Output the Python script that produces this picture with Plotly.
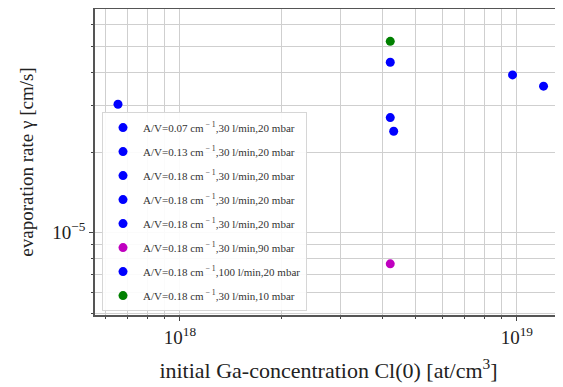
import plotly.graph_objects as go

# Data
labels = [
    "A/V=0.07 cm<sup> − 1</sup>,30 l/min,20 mbar",
    "A/V=0.13 cm<sup> − 1</sup>,30 l/min,20 mbar",
    "A/V=0.18 cm<sup> − 1</sup>,30 l/min,20 mbar",
    "A/V=0.18 cm<sup> − 1</sup>,30 l/min,20 mbar",
    "A/V=0.18 cm<sup> − 1</sup>,30 l/min,20 mbar",
    "A/V=0.18 cm<sup> − 1</sup>,30 l/min,90 mbar",
    "A/V=0.18 cm<sup> − 1</sup>,100 l/min,20 mbar",
    "A/V=0.18 cm<sup> − 1</sup>,30 l/min,10 mbar",
]
conc = [6.55e17, 1.20e19, 9.71e18, 4.21e18, 4.31e18, 4.21e18, 4.21e18, 4.21e18]
rate = [3.03e-5, 3.54e-5, 3.90e-5, 2.70e-5, 2.40e-5, 7.65e-6, 4.35e-5, 5.21e-5]
colors = ["#0000ff", "#0000ff", "#0000ff", "#0000ff", "#0000ff", "#bf00bf", "#0000ff", "#008000"]

x_major = [1e18, 1e19]
x_major_text = ["10<sup>18</sup>", "10<sup>19</sup>"]
y_major = [1e-5]
y_major_text = ["10<sup>−5</sup>"]

x_minor = [m * 10 ** e for e in (17, 18) for m in range(2, 10)]
y_minor = [m * 10 ** e for e in (-6, -5) for m in range(2, 10)]

serif = "Liberation Serif, Times New Roman, serif"
grid = "#cfcfcf"

fig = go.Figure()
for i, (lab, xv, yv, c) in enumerate(zip(labels, conc, rate, colors)):
    fig.add_trace(go.Scatter(
        x=[xv], y=[yv], mode="markers", name=lab, legendgroup=f"g{i}",
        marker=dict(color=c, size=9, line=dict(width=0)),
    ))

# the page body adds an 8px offset, so the figure is sized to the remaining window
fig.update_layout(
    width=555, height=379,
    margin=dict(l=87, r=1, t=1, b=72, autoexpand=False),
    paper_bgcolor="white", plot_bgcolor="white",
    font=dict(family=serif, color="#222222"),
    showlegend=True,
    legend=dict(
        x=0.015, y=0.663, xanchor="left", yanchor="top",
        bgcolor="rgba(255,255,255,0.9)", bordercolor="#d6d6d6", borderwidth=1,
        font=dict(family=serif, size=11, color="#333333"),
        tracegroupgap=5, itemwidth=30,
    ),
    xaxis=dict(
        type="log", range=[17.748, 19.134], automargin=False,
        tickmode="array", tickvals=x_major, ticktext=x_major_text,
        ticks="outside", ticklen=4, tickcolor="#444444",
        tickfont=dict(family=serif, size=19, color="#222222"),
        showgrid=True, gridcolor=grid, gridwidth=1.2,
        showline=True, linecolor="#555555", linewidth=1.5, mirror=True,
        zeroline=False,
        minor=dict(tickmode="array", tickvals=x_minor, ticks="outside", ticklen=2,
                   tickcolor="#444444", showgrid=True, gridcolor=grid, gridwidth=1.2),
        title=dict(text="initial Ga-concentration Cl(0) [at/cm<sup>3</sup>]",
                   font=dict(family=serif, size=22, color="#222222"), standoff=16),
    ),
    yaxis=dict(
        type="log", range=[-5.308, -4.162], automargin=False,
        tickmode="array", tickvals=y_major, ticktext=y_major_text,
        ticks="outside", ticklen=4, tickcolor="#444444",
        tickfont=dict(family=serif, size=19, color="#222222"),
        showgrid=True, gridcolor=grid, gridwidth=1.2,
        showline=True, linecolor="#555555", linewidth=1.5, mirror=False,
        zeroline=False,
        minor=dict(tickmode="array", tickvals=y_minor, ticks="outside", ticklen=2,
                   tickcolor="#444444", showgrid=True, gridcolor=grid, gridwidth=1.2),
        title=dict(text="evaporation rate γ [cm/s]",
                   font=dict(family=serif, size=19, color="#222222"), standoff=14),
    ),
)

fig.write_html("out.html")
